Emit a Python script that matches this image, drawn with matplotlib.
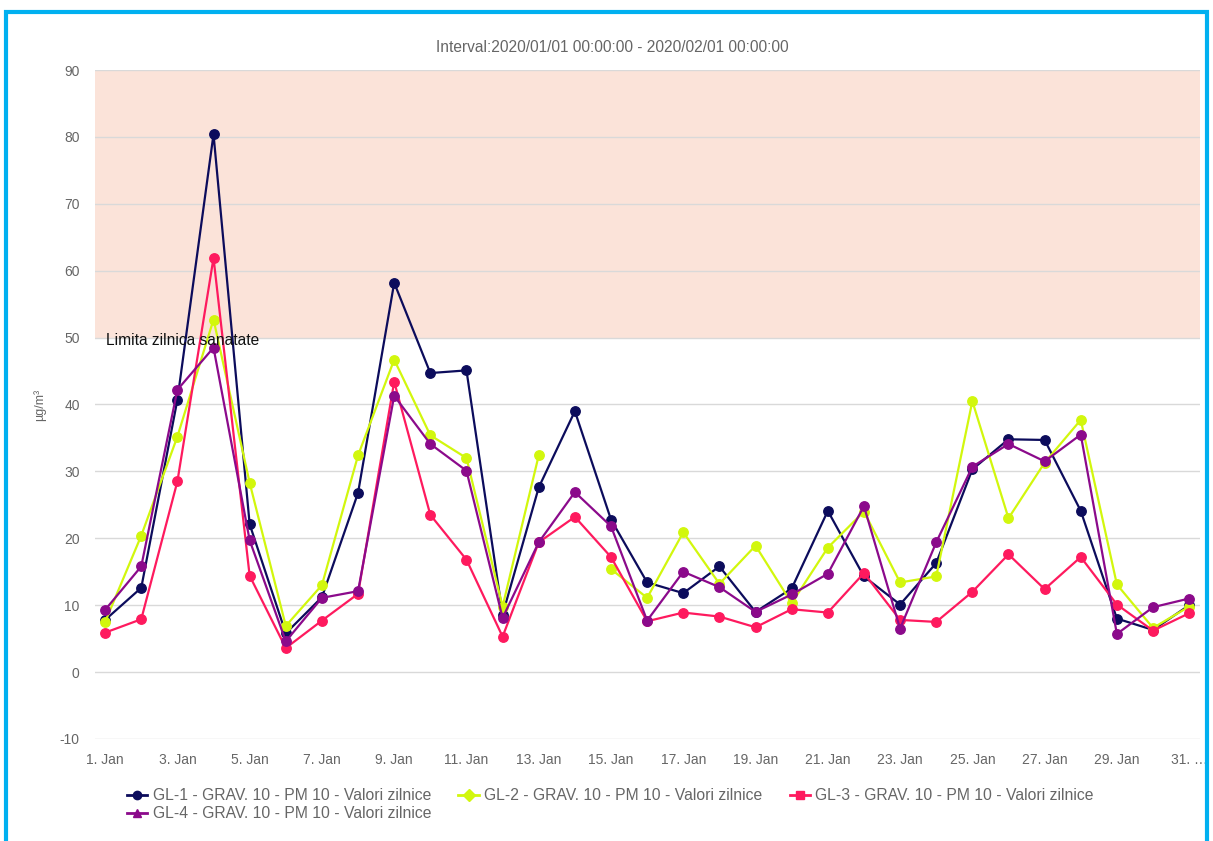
import numpy as np
import matplotlib
matplotlib.use("Agg")
import matplotlib.pyplot as plt
from matplotlib.lines import Line2D
from matplotlib.patches import Rectangle

plt.rcParams['font.family'] = ['Liberation Sans', 'DejaVu Sans']
plt.rcParams['axes.unicode_minus'] = False

nan = np.nan
days = list(range(1, 32))
tick_days = list(range(1, 32, 2))
tick_labels = [f"{d}. Jan" for d in tick_days[:-1]] + ["31. …"]

gl1 = [7.8, 12.6, 40.7, 80.4, 22.1, 5.8, 11.2, 26.8, 58.2, 44.7, 45.1, 8.6, 27.6, 39.0, 22.8,
       13.4, 11.8, 15.8, 9.0, 12.5, 24.1, 14.3, 10.1, 16.3, 30.3, 34.8, 34.7, 24.1, 8.0, 6.3, 10.0]
gl2 = [7.5, 20.4, 35.2, 52.7, 28.3, 6.9, 13.0, 32.4, 46.7, 35.4, 32.0, 9.8, 32.4, nan, 15.4,
       11.1, 20.9, 13.2, 18.9, 10.3, 18.6, 24.0, 13.4, 14.3, 40.5, 23.0, 31.3, 37.7, 13.1, 6.6, 9.8]
gl3 = [5.9, 7.9, 28.5, 61.9, 14.4, 3.6, 7.7, 11.7, 43.4, 23.5, 16.8, 5.3, 19.4, 23.2, 17.2,
       7.6, 8.9, 8.3, 6.7, 9.4, 8.9, 14.8, 7.8, 7.5, 12.0, 17.6, 12.4, 17.2, 10.1, 6.2, 8.8]
gl4 = [9.3, 15.8, 42.2, 48.5, 19.7, 4.6, 11.1, 12.1, 41.3, 34.1, 30.1, 8.1, 19.4, 26.9, 21.8,
       7.7, 15.0, 12.7, 9.0, 11.6, 14.7, 24.8, 6.5, 19.4, 30.7, 34.1, 31.5, 35.5, 5.7, 9.7, 11.0]

series_names = ["GL-1 - GRAV. 10 - PM 10 - Valori zilnice",
                "GL-2 - GRAV. 10 - PM 10 - Valori zilnice",
                "GL-3 - GRAV. 10 - PM 10 - Valori zilnice",
                "GL-4 - GRAV. 10 - PM 10 - Valori zilnice"]
colors = ['#0c0c5c', '#d2f70d', '#fe1a5e', '#8b0a8b']
legend_markers = ['o', 'D', 's', '^']
limit_value = 50
y_min, y_max = -10, 90

W, H = 1213, 841
fig = plt.figure(figsize=(W / 100, H / 100), dpi=100)
ax = fig.add_axes([95 / W, 1 - 739 / H, 1105 / W, 669 / H])

ax.axhspan(limit_value, y_max, color='#fbe3d9', zorder=0, lw=0)
ax.text(1.015, limit_value - 0.4, "Limita zilnica sanatate", fontsize=11.2, color='#111111',
        va='center', ha='left', zorder=10)

for vals, c in zip([gl1, gl2, gl3, gl4], colors):
    ax.plot(days, vals, color=c, lw=1.6, marker='o', markersize=6.8, zorder=3)

ax.set_ylim(y_min, y_max)
ax.set_xlim(0.72, 31.3)
ax.set_yticks(np.arange(-10, 91, 10))
ax.set_xticks(tick_days)
ax.set_xticklabels(tick_labels)
ax.grid(axis='y', color='#d9d9d9', lw=1, zorder=1)
ax.grid(axis='x', visible=False)
for s in ax.spines.values():
    s.set_visible(False)
ax.tick_params(axis='both', length=0, labelsize=10, labelcolor='#666666')
ax.tick_params(axis='y', pad=11)
ax.tick_params(axis='x', pad=10)
ax.set_ylabel("µg/m³", fontsize=9, color='#666666', labelpad=10)

fig.text(612 / W, 1 - 47 / H, "Interval:2020/01/01 00:00:00 - 2020/02/01 00:00:00",
         ha='center', va='center', fontsize=11.2, color='#666666')

handles = [Line2D([0], [0], color=c, lw=2, marker=m, markersize=6)
           for c, m in zip(colors, legend_markers)]
order = [0, 3, 1, 2]
fig.legend([handles[i] for i in order], [series_names[i] for i in order],
           loc='upper left', bbox_to_anchor=(127 / W, 1 - 788 / H),
           ncol=3, frameon=False, fontsize=11.3, labelcolor='#666666', handlelength=1.3,
           handletextpad=0.35, columnspacing=1.72, labelspacing=0.22, borderaxespad=0,
           borderpad=0)

border = Rectangle((6 / W, -0.05), (W - 12) / W, 1 - 12 / H + 0.05, transform=fig.transFigure,
                   fill=False, edgecolor='#00b0f0', lw=3, zorder=100)
fig.patches.append(border)

fig.savefig("out.png", dpi=100)
